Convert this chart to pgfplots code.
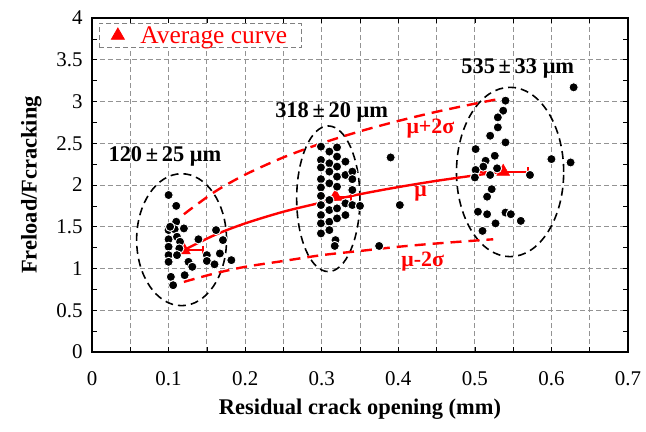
\documentclass[border=0pt]{standalone}
\usepackage{fontspec}
\setmainfont{Liberation Serif}
\usepackage{pgfplots}
\pgfplotsset{compat=1.18}

% measured scatter (residual crack opening, Freload/Fcracking)
\pgfplotstableread{
x y
0.100 1.88
0.110 1.75
0.110 1.56
0.120 1.48
0.100 1.46
0.108 1.47
0.102 1.50
0.100 1.35
0.111 1.38
0.115 1.32
0.100 1.26
0.114 1.24
0.139 1.35
0.100 1.16
0.111 1.16
0.100 1.08
0.126 1.08
0.131 1.02
0.150 1.16
0.150 1.09
0.160 1.05
0.167 1.18
0.162 1.46
0.171 1.34
0.182 1.10
0.103 0.90
0.106 0.80
0.121 0.92
0.299 2.46
0.299 2.30
0.299 2.21
0.299 2.07
0.299 1.97
0.299 1.87
0.299 1.76
0.299 1.64
0.299 1.54
0.299 1.42
0.310 2.40
0.310 2.26
0.310 2.16
0.310 2.02
0.310 1.82
0.310 1.70
0.310 1.56
0.310 1.46
0.320 2.45
0.320 2.34
0.320 2.22
0.320 2.10
0.320 1.98
0.320 1.72
0.320 1.60
0.331 2.28
0.331 2.12
0.331 1.78
0.331 1.64
0.340 2.16
0.340 2.07
0.340 1.94
0.340 1.76
0.350 1.75
0.318 1.34
0.317 1.27
0.375 1.27
0.390 2.33
0.402 1.76
0.629 3.17
0.540 3.01
0.537 2.89
0.530 2.81
0.530 2.69
0.520 2.59
0.540 2.51
0.501 2.43
0.526 2.35
0.514 2.29
0.511 2.22
0.600 2.31
0.625 2.27
0.501 2.18
0.500 2.09
0.520 2.12
0.529 2.20
0.572 2.12
0.522 1.95
0.516 1.86
0.504 1.68
0.516 1.65
0.540 1.67
0.547 1.65
0.560 1.57
0.527 1.54
0.510 1.45
}\scatterdata

% group averages with horizontal spread
\pgfplotstableread{
x y ep em
0.120 1.22 0.025 0.000
0.318 1.86 0.020 0.020
0.537 2.16 0.033 0.033
}\avgdata

\begin{document}
\begin{tikzpicture}
\begin{axis}[
    scale only axis,
    width=536bp, height=334bp,
    xmin=0, xmax=0.7, ymin=0, ymax=4,
    xtick={0,0.1,0.2,0.3,0.4,0.5,0.6,0.7},
    ytick={0,0.5,1,1.5,2,2.5,3,3.5,4},
    minor x tick num=1, minor y tick num=1,
    xmajorgrids, xminorgrids, ymajorgrids,
    grid style={gray!85, line width=0.8pt, dash pattern=on 5bp off 3bp},
    minor grid style={gray!85, line width=0.8pt, dash pattern=on 5bp off 3bp},
    tick align=inside,
    major tick length=5bp, minor tick length=5bp,
    tick style={black, line width=0.7pt},
    axis line style={black, line width=1.1pt},
    xticklabel style={/pgf/number format/fixed, /pgf/number format/precision=1},
    yticklabel style={/pgf/number format/fixed, /pgf/number format/precision=1},
    /pgf/number format/assume math mode=true,
    ticklabel style={font=\fontsize{21}{25}\selectfont},
    xticklabel style={yshift=-16bp},
    yticklabel style={xshift=-6bp},
    xlabel={\textbf{Residual crack opening (mm)}},
    ylabel={\textbf{Freload/Fcracking}},
    label style={font=\fontsize{22.5}{26}\selectfont},
    xlabel style={yshift=-6bp},
    ylabel style={yshift=8bp},
    legend style={at={(rel axis cs:0.013,0.985)}, anchor=north west,
        draw=gray, line width=0.8pt, dash pattern=on 5bp off 3bp, fill=white,
        font=\fontsize{25.5}{29}\selectfont, text=red,
        inner xsep=12bp, inner ysep=1bp},
    legend cell align=left,
    clip=false,
]
\coordinate (ll) at (rel axis cs:0,0);
\coordinate (ur) at (rel axis cs:1,1);

% groups
\draw[black, line width=1.6pt, dash pattern=on 8bp off 5bp]
  (axis cs:0.117,1.345) ellipse [x radius=0.0587, y radius=0.79];
\draw[black, line width=1.6pt, dash pattern=on 8bp off 5bp]
  (axis cs:0.3086,1.835) ellipse [x radius=0.0413, y radius=0.872];
\draw[black, line width=1.6pt, dash pattern=on 8bp off 5bp]
  (axis cs:0.546,2.156) ellipse [x radius=0.070, y radius=1.014];

% mean and +/- 2 sigma curves
\addplot[red, line width=2.4bp, smooth, forget plot] coordinates {
(0.12,1.22) (0.16,1.40) (0.20,1.54) (0.25,1.68) (0.30,1.79)
(0.35,1.89) (0.40,1.975) (0.45,2.05) (0.50,2.115) (0.537,2.16)};
\addplot[red, line width=2.4bp, smooth, forget plot, dash pattern=on 11bp off 7bp] coordinates {
(0.12,1.65) (0.16,1.917) (0.20,2.124) (0.25,2.331) (0.30,2.50)
(0.35,2.643) (0.40,2.767) (0.45,2.877) (0.50,2.974) (0.537,3.04)};
\addplot[red, line width=2.4bp, smooth, forget plot, dash pattern=on 11bp off 7bp] coordinates {
(0.12,0.84) (0.16,0.94) (0.20,1.02) (0.25,1.09) (0.30,1.16)
(0.35,1.21) (0.40,1.26) (0.45,1.30) (0.524,1.35)};

% averages
\addplot[only marks, red, mark=triangle*, mark size=7.5bp,
    mark options={fill=red, draw=red, solid},
    error bars/.cd, x dir=both, x explicit,
    error bar style={red, line width=2.2bp, solid},
    error mark options={rotate=90, red, mark size=4.5bp, line width=2bp}]
  table[x=x, y=y, x error plus=ep, x error minus=em] {\avgdata};
\addlegendentry{\hspace{14bp}Average curve\hspace{4bp}}

% scatter on top
\addplot[only marks, mark=*, mark size=4.6bp, forget plot,
    mark options={fill=black, draw=white, line width=0.9pt}]
  table[x=x, y=y] {\scatterdata};

% annotations
\node[font=\fontsize{22.5}{26}\selectfont\bfseries] at (axis cs:0.0953,2.34) {120\,±\,25 μm};
\node[font=\fontsize{22.5}{26}\selectfont\bfseries] at (axis cs:0.313,2.87) {318\,±\,20 μm};
\node[font=\fontsize{22.5}{26}\selectfont\bfseries] at (axis cs:0.556,3.40) {535\,±\,33 μm};
\node[font=\fontsize{22}{26}\selectfont\bfseries, text=red] at (axis cs:0.442,2.68) {μ+2σ};
\node[font=\fontsize{22}{26}\selectfont\bfseries, text=red] at (axis cs:0.429,1.90) {μ};
\node[font=\fontsize{22}{26}\selectfont\bfseries, text=red] at (axis cs:0.432,1.08) {μ-2σ};
\end{axis}
\pgfresetboundingbox
\path[use as bounding box] ([xshift=-92bp, yshift=-80bp]ll) rectangle ([xshift=18bp, yshift=18bp]ur);
\end{tikzpicture}
\end{document}
